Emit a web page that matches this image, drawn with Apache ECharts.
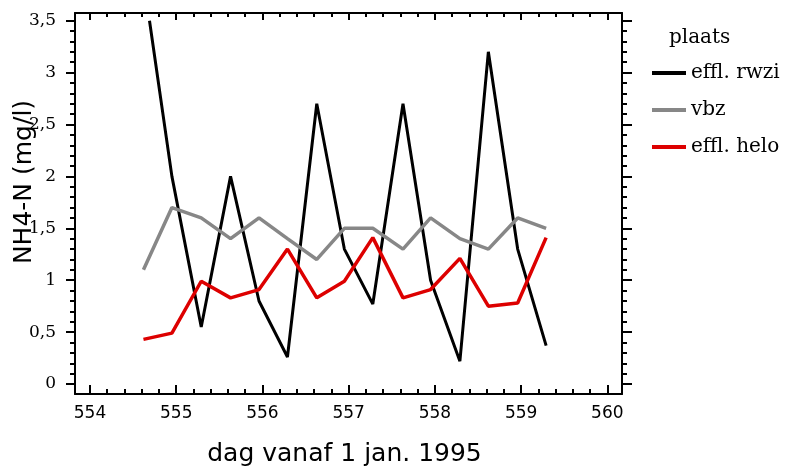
<!DOCTYPE html>
<html>
<head>
<meta charset="utf-8">
<script src="https://cdn.jsdelivr.net/npm/echarts@6/dist/echarts.min.js"></script>
<style>html,body{margin:0;padding:0;background:#fff}#c{width:790px;height:474px}</style>
</head>
<body>
<div id="c"></div>
<script>
// ---- data ----
const seriesNames = ['effl. rwzi', 'vbz', 'effl. helo'];
const daysRwzi = [554.69, 554.95, 555.29, 555.63, 555.96, 556.29, 556.63, 556.95, 557.28, 557.63, 557.95, 558.29, 558.62, 558.96, 559.29];
const daysOther = [554.62, 554.95, 555.29, 555.63, 555.96, 556.29, 556.63, 556.95, 557.28, 557.63, 557.95, 558.29, 558.62, 558.96, 559.29];
const rwzi = [3.5, 2.0, 0.55, 2.0, 0.8, 0.26, 2.7, 1.3, 0.77, 2.7, 1.0, 0.22, 3.2, 1.3, 0.37];
const vbz  = [1.1, 1.7, 1.6, 1.4, 1.6, 1.4, 1.2, 1.5, 1.5, 1.3, 1.6, 1.4, 1.3, 1.6, 1.5];
const helo = [0.43, 0.49, 0.99, 0.83, 0.91, 1.3, 0.83, 0.99, 1.41, 0.83, 0.91, 1.21, 0.75, 0.78, 1.41];
const xTickLabels = [554, 555, 556, 557, 558, 559, 560];
const yTickLabels = [0, 0.5, 1, 1.5, 2, 2.5, 3, 3.5];
const xMinorTicks = [];
for (let k = 0; k <= 30; k++) xMinorTicks.push(+(554 + 0.2 * k).toFixed(1));
const yMinorTicks = [];
for (let k = 0; k <= 35; k++) yMinorTicks.push(+(0.1 * k).toFixed(1));

// ---- layout ----
const X_MIN = 553.826, X_MAX = 560.17;
const Y_MIN = -0.096, Y_MAX = 3.574;
const black = '#000';
const lineW = 2;

function xAx(pos, ticks, len, labels) {
  return {
    type: 'value', position: pos, min: X_MIN, max: X_MAX,
    axisLine: { show: labels !== null, onZero: false, lineStyle: { color: black, width: lineW } },
    axisTick: { show: true, inside: true, length: len, customValues: ticks, lineStyle: { color: black, width: lineW } },
    axisLabel: labels ? { show: true, customValues: labels, margin: 11, color: '#000', fontFamily: 'DejaVu Sans', fontSize: 17, formatter: v => String(v) } : { show: false },
    splitLine: { show: false }, minorTick: { show: false }
  };
}
function yAx(pos, ticks, len, labels, lineShow) {
  return {
    type: 'value', position: pos, min: Y_MIN, max: Y_MAX,
    axisLine: { show: lineShow, onZero: false, lineStyle: { color: black, width: lineW } },
    axisTick: { show: true, inside: false, length: len, customValues: ticks, lineStyle: { color: black, width: lineW } },
    axisLabel: labels ? { show: true, customValues: labels, margin: 19, color: '#000', fontFamily: 'DejaVu Serif', fontSize: 17, formatter: v => String(v).replace('.', ',') } : { show: false },
    splitLine: { show: false }, minorTick: { show: false }
  };
}

const xAxes = [
  xAx('bottom', xTickLabels, 9, xTickLabels),
  xAx('bottom', xMinorTicks, 5, null),
  xAx('top', xTickLabels, 7, []),
  xAx('top', xMinorTicks, 4, null)
];
xAxes[0].name = 'dag vanaf 1 jan. 1995';
xAxes[0].nameLocation = 'middle';
xAxes[0].nameGap = 48;
xAxes[0].nameMoveOverlap = false;
xAxes[0].nameTextStyle = { fontFamily: 'DejaVu Sans', fontSize: 25, color: '#000', padding: [0, 8, 0, 0] };
xAxes[2].axisLabel = { show: false };
xAxes[2].axisLine.show = true;

const yAxes = [
  yAx('left', yTickLabels, 9, yTickLabels, true),
  yAx('left', yMinorTicks, 5, null, false),
  yAx('right', yTickLabels, 10, null, true),
  yAx('right', yMinorTicks, 5, null, false)
];
yAxes[0].name = 'NH4-N (mg/l)';
yAxes[0].nameLocation = 'middle';
yAxes[0].nameGap = 38;
yAxes[0].nameMoveOverlap = false;
yAxes[0].nameTextStyle = { fontFamily: 'DejaVu Sans', fontSize: 25, color: '#000', padding: [0, 0, 0, 43] };

function pairs(xs, ys) { return xs.map((x, i) => [x, ys[i]]); }

const chart = echarts.init(document.getElementById('c'), null, { renderer: 'canvas' });
chart.setOption({
  animation: false,
  backgroundColor: '#fff',
  grid: { left: 75, right: 168, top: 13, bottom: 80, containLabel: false, outerBoundsMode: 'none' },
  title: {
    text: 'plaats', left: 669, top: 28, padding: 0,
    textStyle: { fontFamily: 'DejaVu Serif', fontSize: 20, fontWeight: 'normal', color: '#000', lineHeight: 20 }
  },
  legend: {
    orient: 'vertical', left: 652, top: 63, padding: 0,
    icon: 'rect', itemWidth: 34, itemHeight: 4, itemGap: 17,
    textStyle: { fontFamily: 'DejaVu Serif', fontSize: 20, color: '#000', lineHeight: 20 },
    data: seriesNames
  },
  xAxis: xAxes,
  yAxis: yAxes,
  series: [
    { name: seriesNames[0], type: 'line', data: pairs(daysRwzi, rwzi), showSymbol: false, symbol: 'none',
      color: '#000000', lineStyle: { color: '#000000', width: 3 } },
    { name: seriesNames[1], type: 'line', data: pairs(daysOther, vbz), showSymbol: false, symbol: 'none',
      color: '#878787', lineStyle: { color: '#878787', width: 3.5 } },
    { name: seriesNames[2], type: 'line', data: pairs(daysOther, helo), showSymbol: false, symbol: 'none',
      color: '#dd0000', lineStyle: { color: '#dd0000', width: 3.5 } }
  ]
});
</script>
</body>
</html>
